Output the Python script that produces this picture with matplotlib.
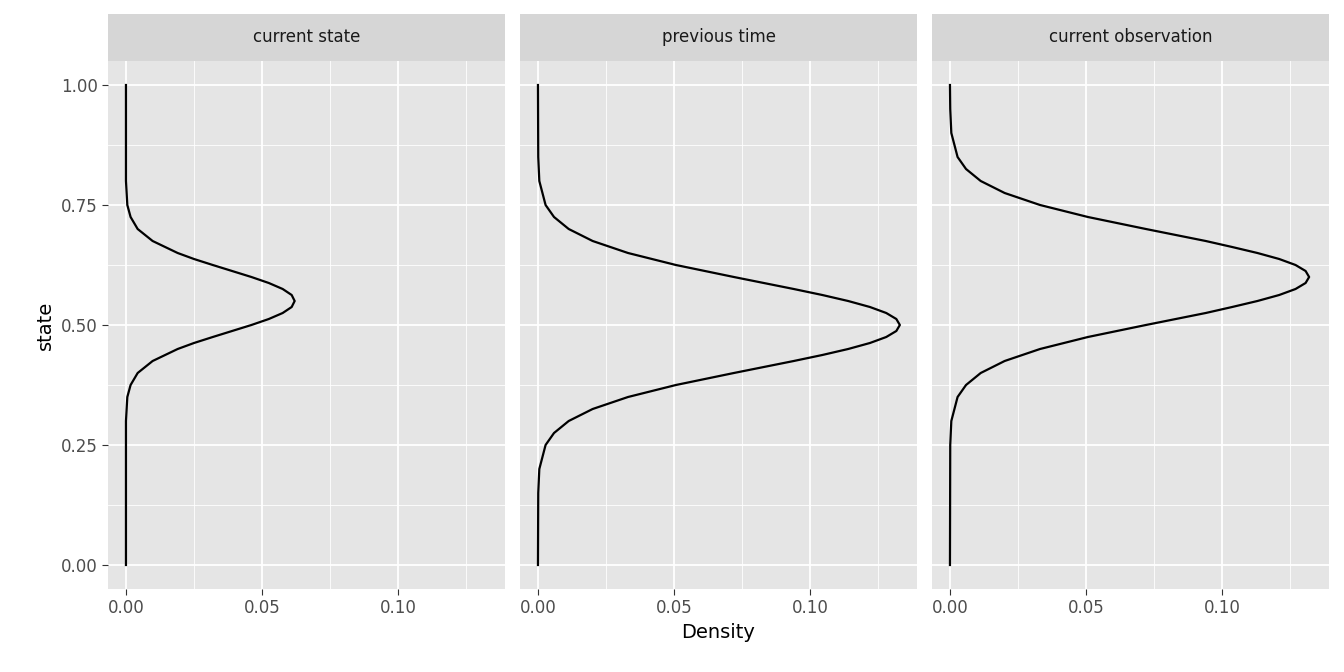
import matplotlib.pyplot as plt
import numpy as np

panels = ["current state", "previous time", "current observation"]

state1 = [0, 0.3, 0.35, 0.375, 0.4, 0.425, 0.45, 0.4625, 0.475, 0.4875, 0.5, 0.5125, 0.525, 0.5375, 0.55,
          0.5625, 0.575, 0.5875, 0.6, 0.6125, 0.625, 0.6375, 0.65, 0.675, 0.7, 0.725, 0.75, 0.8, 1.0]
dens1 = [0, 0, 0.0005, 0.0017, 0.0043, 0.0098, 0.019, 0.025, 0.0319, 0.039, 0.0461, 0.0525, 0.0576, 0.0609, 0.062,
         0.0609, 0.0576, 0.0525, 0.0461, 0.039, 0.0319, 0.025, 0.019, 0.0098, 0.0043, 0.0017, 0.0005, 0, 0]

state2 = [0, 0.15, 0.2, 0.25, 0.275, 0.3, 0.325, 0.35, 0.375, 0.4, 0.425, 0.4375, 0.45, 0.4625, 0.475, 0.4875, 0.5,
          0.5125, 0.525, 0.5375, 0.55, 0.5625, 0.575, 0.6, 0.625, 0.65, 0.675, 0.7, 0.725, 0.75, 0.8, 0.85, 1.0]
dens2 = [0, 0.0001, 0.0005, 0.0028, 0.0059, 0.0113, 0.0201, 0.0331, 0.0507, 0.072, 0.094, 0.1045, 0.114, 0.122, 0.128, 0.1317, 0.133,
         0.1317, 0.128, 0.122, 0.114, 0.1045, 0.094, 0.072, 0.0507, 0.0331, 0.0201, 0.0113, 0.0059, 0.0028, 0.0005, 0.0001, 0]

state3 = [0, 0.25, 0.3, 0.35, 0.375, 0.4, 0.425, 0.45, 0.475, 0.5, 0.525, 0.5375, 0.55, 0.5625, 0.575, 0.5875, 0.6,
          0.6125, 0.625, 0.6375, 0.65, 0.6625, 0.675, 0.7, 0.725, 0.75, 0.775, 0.8, 0.825, 0.85, 0.9, 0.95, 1.0]
dens3 = [0, 0.0001, 0.0005, 0.0028, 0.0059, 0.0113, 0.0201, 0.0331, 0.0507, 0.072, 0.094, 0.1037, 0.113, 0.121, 0.127, 0.1307, 0.132,
         0.1307, 0.127, 0.121, 0.113, 0.1037, 0.094, 0.072, 0.0507, 0.0331, 0.0201, 0.0113, 0.0059, 0.0028, 0.0005, 0.0001, 0]

states = [state1, state2, state3]
dens = [dens1, dens2, dens3]

fig = plt.figure(figsize=(13.44, 6.72), dpi=100)
lefts = [108, 520, 932]
W, H = 1344, 672
for i in range(3):
    x0 = lefts[i] / W
    ax = fig.add_axes([x0, (672 - 589) / H, 397 / W, (589 - 61) / H])
    ax.set_facecolor("#E5E5E5")
    ax.plot(dens[i], states[i], color="black", lw=1.6, solid_joinstyle="round")
    ax.set_xlim(-0.0066, 0.1393)
    ax.set_ylim(-0.05, 1.05)
    ax.set_xticks([0, 0.05, 0.1])
    ax.set_xticklabels(["0.00", "0.05", "0.10"])
    ax.set_xticks([0.025, 0.075, 0.125], minor=True)
    ax.set_yticks([0, 0.25, 0.5, 0.75, 1.0])
    ax.set_yticks([0.125, 0.375, 0.625, 0.875], minor=True)
    ax.grid(which="major", color="white", lw=1.3)
    ax.grid(which="minor", color="white", lw=0.6)
    ax.set_axisbelow(True)
    for s in ax.spines.values():
        s.set_visible(False)
    ax.tick_params(which="both", color="#333333", labelcolor="#4D4D4D", labelsize=12, length=4)
    ax.tick_params(which="minor", length=0)
    if i == 0:
        ax.set_yticklabels(["0.00", "0.25", "0.50", "0.75", "1.00"])
        ax.set_ylabel("state", fontsize=14)
    else:
        ax.tick_params(axis="y", length=0, labelleft=False)
    if i == 1:
        ax.set_xlabel("Density", fontsize=14)
    # strip
    sax = fig.add_axes([x0, (672 - 61) / H, 397 / W, 47 / H])
    sax.set_facecolor("#D6D6D6")
    sax.set_xticks([]); sax.set_yticks([])
    for s in sax.spines.values():
        s.set_visible(False)
    sax.text(0.5, 0.5, panels[i], ha="center", va="center", fontsize=12, color="#1A1A1A")

fig.savefig("out.png", dpi=100)
